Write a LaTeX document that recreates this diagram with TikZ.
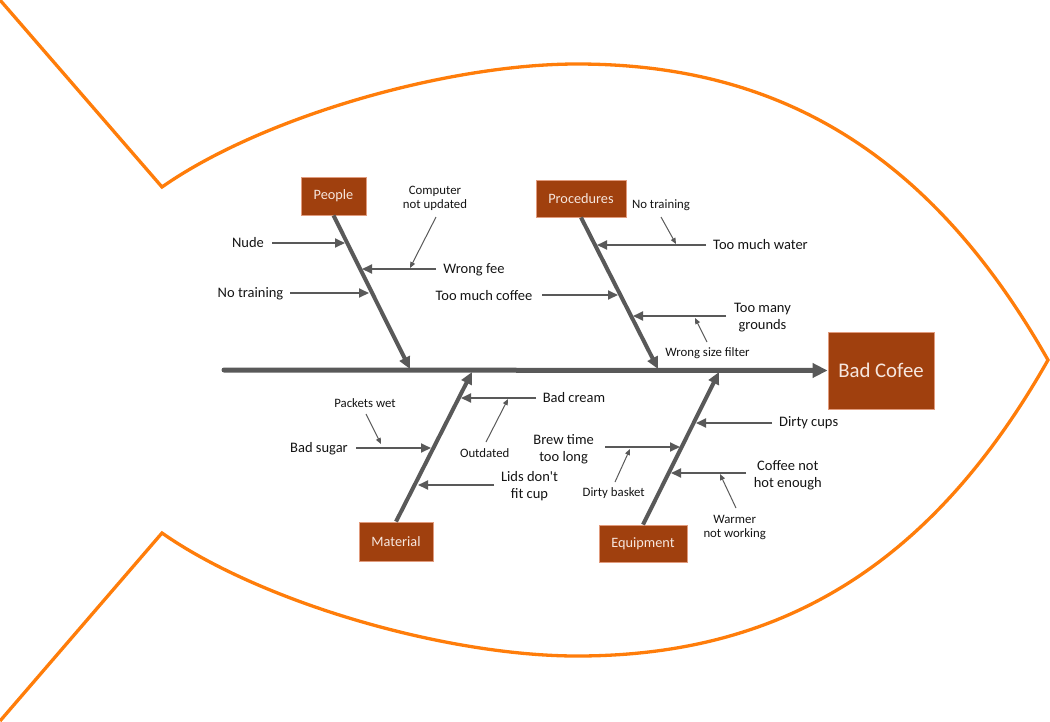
\documentclass[tikz,border=0pt]{standalone}
\usepackage{fontspec}
\setmainfont{Carlito}
\usetikzlibrary{arrows.meta}
\definecolor{fishor}{RGB}{255,125,10}
\definecolor{boxfill}{RGB}{160,64,14}
\definecolor{boxline}{RGB}{225,155,125}
\definecolor{boxtext}{RGB}{246,230,222}
\definecolor{bonec}{RGB}{89,89,89}
\definecolor{txt}{RGB}{20,20,20}
\begin{document}
\begin{tikzpicture}[x=1pt,y=-1pt,
  fish/.style={draw=fishor,line width=3.3pt,line join=miter},
  cat/.style={draw=boxline,line width=0.8pt,fill=boxfill,text=boxtext,
    font=\fontsize{14.3}{16}\selectfont,inner sep=0pt},
  effect/.style={cat,font=\fontsize{20.8}{24}\selectfont},
  lbl/.style={text=txt,align=center,inner sep=0pt,font=\fontsize{14.5}{17}\selectfont},
  sml/.style={text=txt,align=center,inner sep=0pt,font=\fontsize{12.8}{14.5}\selectfont},
  spine/.style={draw=bonec,line width=5pt,line cap=round,-{Triangle[length=15pt,width=14pt]}},
  bonel/.style={draw=bonec,line width=4pt,-{Triangle[length=12pt,width=11pt]}},
  cause/.style={draw=bonec,line width=1.8pt,-{Triangle[length=10pt,width=9pt]}},
  subc/.style={draw=bonec,line width=1pt,-{Triangle[length=6pt,width=5pt]}}
]
\useasboundingbox (0,0) rectangle (1050,721);
% fish outline
\draw[fish] (0,0) -- (162,187) .. controls (262,117) and (447,64) .. (577,64)
  .. controls (777,64) and (929.7,151.2) .. (1048,360)
  .. controls (929.7,568.8) and (777,656) .. (577,656)
  .. controls (447,656) and (262,603) .. (162,533) -- (0,721);

% category boxes
\node[cat,minimum width=65pt,minimum height=38pt] (people) at (333.5,196) {People};
\node[cat,minimum width=90pt,minimum height=37pt] (proc) at (581,198.5) {Procedures};
\node[cat,minimum width=74pt,minimum height=39pt] (mat) at (396,541.5) {Material};
\node[cat,minimum width=88pt,minimum height=37pt] (equip) at (643,543.5) {Equipment};
\node[effect,minimum width=106pt,minimum height=77pt] (bad) at (881,370.5) {Bad Cofee};

% spine and bones
\coordinate (spineL) at (224,370);
\draw[spine] (spineL) -- (bad.west);
\coordinate (pT) at (410,369);
\coordinate (rT) at (658,369);
\coordinate (mT) at (472,372);
\coordinate (eT) at (719,372);
\draw[bonel] (people.south) -- (pT);
\draw[bonel] (proc.south) -- (rT);
\draw[bonel] (mat.north) -- (mT);
\draw[bonel] (equip.north) -- (eT);

% People causes
\node[lbl] (nude) at (248,243) {Nude};
\coordinate (nudeS) at (272,243); \coordinate (nudeE) at (345,243);
\draw[cause] (nudeS) -- (nudeE);
\node[lbl] (wfee) at (474,269.5) {Wrong fee};
\coordinate (wfeeS) at (436,269); \coordinate (wfeeE) at (362,269);
\draw[cause] (wfeeS) -- (wfeeE);
\node[sml] (comp) at (435,198.5) {Computer\\not updated};
\coordinate (compS) at (436,217); \coordinate (compE) at (410,268);
\draw[subc] (compS) -- (compE);
\node[lbl] (ptrain) at (250.5,293.5) {No training};
\coordinate (ptrainS) at (290,293); \coordinate (ptrainE) at (369,293);
\draw[cause] (ptrainS) -- (ptrainE);

% Procedures causes
\node[sml] (rtrain) at (661,205.5) {No training};
\coordinate (rtrainS) at (661,217); \coordinate (rtrainE) at (676,244);
\draw[subc] (rtrainS) -- (rtrainE);
\node[lbl] (water) at (760.5,245) {Too much water};
\coordinate (waterS) at (706,245); \coordinate (waterE) at (597,245);
\draw[cause] (waterS) -- (waterE);
\node[lbl] (coffee) at (484,295.5) {Too much coffee};
\coordinate (coffeeS) at (542,295); \coordinate (coffeeE) at (618,295);
\draw[cause] (coffeeS) -- (coffeeE);
\node[lbl] (grounds) at (762.5,317.5) {Too many\\grounds};
\coordinate (groundsS) at (726,316); \coordinate (groundsE) at (633,316);
\draw[cause] (groundsS) -- (groundsE);
\node[sml] (filter) at (707.5,353) {Wrong size filter};
\coordinate (filterS) at (707,342); \coordinate (filterE) at (695,318);
\draw[subc] (filterS) -- (filterE);

% Material causes
\node[sml] (packets) at (365,403) {Packets wet};
\coordinate (packetsS) at (366,414); \coordinate (packetsE) at (381,444);
\draw[subc] (packetsS) -- (packetsE);
\node[lbl] (sugar) at (319,448.5) {Bad sugar};
\coordinate (sugarS) at (356,448); \coordinate (sugarE) at (431,448);
\draw[cause] (sugarS) -- (sugarE);
\node[lbl] (cream) at (574,398) {Bad cream};
\coordinate (creamS) at (536,398); \coordinate (creamE) at (461,398);
\draw[cause] (creamS) -- (creamE);
\node[sml] (outdated) at (484.7,453) {Outdated};
\coordinate (outdatedS) at (486,442); \coordinate (outdatedE) at (508,399);
\draw[subc] (outdatedS) -- (outdatedE);
\node[lbl] (lids) at (529.5,486) {Lids don\textquotesingle t\\fit cup};
\coordinate (lidsS) at (494,485); \coordinate (lidsE) at (418,485);
\draw[cause] (lidsS) -- (lidsE);

% Equipment causes
\node[lbl] (cups) at (808.7,423) {Dirty cups};
\coordinate (cupsS) at (772,423); \coordinate (cupsE) at (696,423);
\draw[cause] (cupsS) -- (cupsE);
\node[lbl] (brew) at (563.6,449) {Brew time\\too long};
\coordinate (brewS) at (605,447); \coordinate (brewE) at (680,447);
\draw[cause] (brewS) -- (brewE);
\node[sml] (basket) at (613.7,493) {Dirty basket};
\coordinate (basketS) at (615,482); \coordinate (basketE) at (630,449);
\draw[subc] (basketS) -- (basketE);
\node[lbl] (hot) at (787.8,474.8) {Coffee not\\hot enough};
\coordinate (hotS) at (746,473); \coordinate (hotE) at (671,473);
\draw[cause] (hotS) -- (hotE);
\node[sml] (warmer) at (734.7,527.5) {Warmer\\not working};
\coordinate (warmerS) at (736,508); \coordinate (warmerE) at (720,474);
\draw[subc] (warmerS) -- (warmerE);
\end{tikzpicture}
\end{document}
